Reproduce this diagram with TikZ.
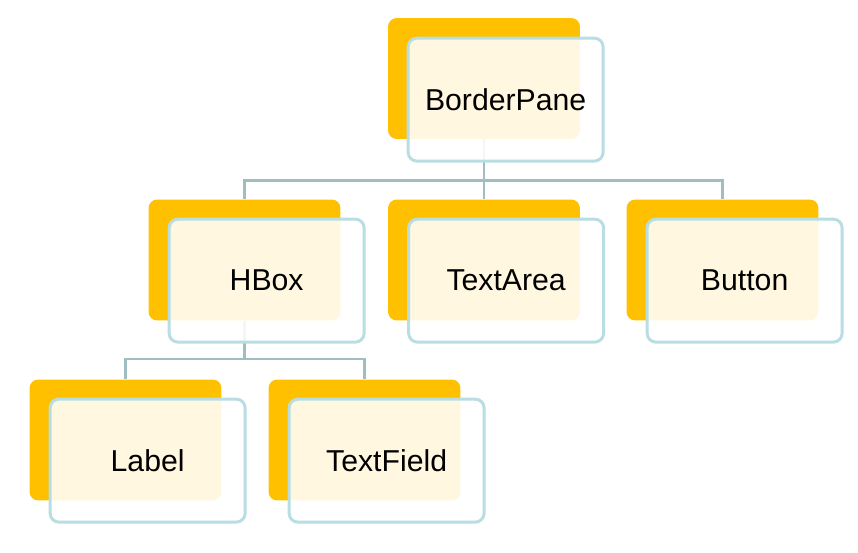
\documentclass[tikz,border=0pt]{standalone}
\usepackage{fontspec}
\setmainfont{Liberation Sans}
\usetikzlibrary{positioning,backgrounds}
\definecolor{tabgold}{RGB}{255,192,0}
\definecolor{tabedge}{RGB}{184,221,227}
\definecolor{linkgray}{RGB}{160,190,194}

\tikzset{
  back/.style={fill=tabgold, rounded corners=5pt, minimum width=3.84cm, minimum height=2.42cm, inner sep=0pt},
  front/.style={draw=tabedge, line width=1.7pt, fill=white, fill opacity=0.88, text opacity=1,
    rounded corners=5pt, minimum width=3.9cm, minimum height=2.46cm, inner sep=0pt,
    font=\fontsize{17.2}{20}\selectfont},
  link/.style={draw=linkgray, line width=1.5pt}
}

\begin{document}
\begin{tikzpicture}[x=0.02cm, y=-0.02cm]
    \useasboundingbox (0,0) rectangle (858,553);

    % Gold tabs behind the boxes
    \node[back] (bpb) at (484,78.5) {};
    \foreach \n/\x in {hb/244.5, ta/484, bt/722.5} {
        \node[back] (\n b) at (\x,260) {};
    }
    \foreach \n/\x in {lb/125.5, tf/364.5} {
        \node[back] (\n b) at (\x,440) {};
    }

    % Front boxes with the labels
    \node[front, below right=0.38cm and 0.38cm of bpb.north west] (bp) {BorderPane};
    \foreach \n/\t in {hb/HBox, ta/TextArea, bt/Button, lb/Label, tf/TextField} {
        \node[front, below right=0.37cm and 0.39cm of \n b.north west] (\n) {\t};
    }

    % Tree connectors
    \begin{scope}[on background layer]
        \foreach \c in {hbb, tab, btb} {
            \draw[link] (bpb.south) -- ++(0,41) -| (\c.north);
        }
        \foreach \c in {lbb, tfb} {
            \draw[link] (hbb.south) -- ++(0,38) -| (\c.north);
        }
    \end{scope}
\end{tikzpicture}
\end{document}
